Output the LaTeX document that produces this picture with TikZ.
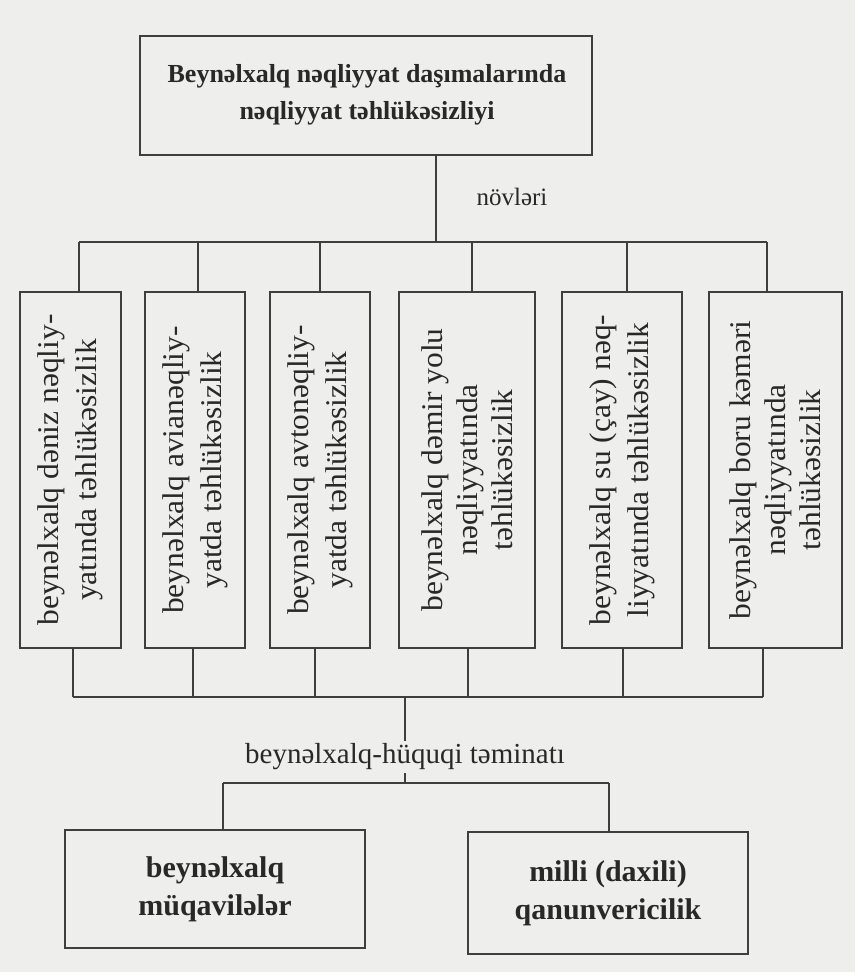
\documentclass[tikz,border=0pt]{standalone}
\usepackage{fontspec}
\setmainfont{Liberation Serif}
\newfontfamily\stretchedserif[FakeStretch=1.05]{Liberation Serif}
\definecolor{paper}{RGB}{238,238,236}
\definecolor{ink}{RGB}{62,62,62}
\definecolor{txt}{RGB}{40,40,40}
\tikzset{
  box/.style={draw=ink, line width=2.2pt, inner sep=0pt},
  conn/.style={draw=ink, line width=2pt},
  vtext/.style={rotate=90, align=center, text=txt, inner sep=0pt, font=\stretchedserif\fontsize{30}{38}\selectfont},
  vtextthree/.style={rotate=90, align=center, text=txt, inner sep=0pt, font=\stretchedserif\fontsize{30}{35}\selectfont},
  titletext/.style={align=center, text=txt, inner sep=0pt, font=\fontsize{26}{37}\selectfont\bfseries},
  boldtext/.style={align=center, text=txt, inner sep=0pt, font=\fontsize{30}{38}\selectfont\bfseries},
  plaintext/.style={text=txt, inner sep=3pt, font=\fontsize{29}{34}\selectfont},
  smalltext/.style={text=txt, inner sep=0pt, font=\fontsize{25}{30}\selectfont}
}
\begin{document}
\begin{tikzpicture}[x=1pt,y=-1pt]
\useasboundingbox (0,0) rectangle (855,972);
\fill[paper] (0,0) rectangle (855,972);

% title
\node[box, minimum width=452pt, minimum height=119pt] (top) at (366,95.5) {};
\node[titletext] (toptxt) at (367,95) {Beynəlxalq nəqliyyat daşımalarında\\nəqliyyat təhlükəsizliyi};
\node[smalltext] (novleri) at (512,197) {növləri};

% six boxes
\node[box, minimum width=101pt, minimum height=356pt] (b1) at (70.5,470) {};
\node[box, minimum width=100pt, minimum height=356pt] (b2) at (195,470) {};
\node[box, minimum width=100pt, minimum height=356pt] (b3) at (320,470) {};
\node[box, minimum width=136pt, minimum height=356pt] (b4) at (467,470) {};
\node[box, minimum width=120pt, minimum height=356pt] (b5) at (622,470) {};
\node[box, minimum width=133pt, minimum height=356pt] (b6) at (775.5,470) {};

\node[vtext] (t1) at (b1.center) {beynəlxalq dəniz nəqliy-\\yatında təhlükəsizlik};
\node[vtext] (t2) at (b2.center) {beynəlxalq avianəqliy-\\yatda təhlükəsizlik};
\node[vtext] (t3) at (b3.center) {beynəlxalq avtonəqliy-\\yatda təhlükəsizlik};
\node[vtextthree] (t4) at (b4.center) {beynəlxalq dəmir yolu\\nəqliyyatında\\təhlükəsizlik};
\node[vtext] (t5) at (b5.center) {beynəlxalq su (çay) nəq-\\liyyatında təhlükəsizlik};
\node[vtextthree] (t6) at (b6.center) {beynəlxalq boru kəməri\\nəqliyyatında\\təhlükəsizlik};

% upper bus
\coordinate (j0) at (436,242);
\coordinate (j1) at (79,242);
\coordinate (j2) at (198,242);
\coordinate (j3) at (320,242);
\coordinate (j4) at (472,242);
\coordinate (j5) at (627,242);
\coordinate (j6) at (767,242);
\draw[conn] (top.south -| j0) -- (j0);
\draw[conn] (j1) -- (j6);
\foreach \i in {1,...,6} { \draw[conn] (j\i) -- (b\i.north -| j\i); }

% lower bus
\coordinate (k0) at (405,697);
\coordinate (k1) at (73,697);
\coordinate (k2) at (193,697);
\coordinate (k3) at (315,697);
\coordinate (k4) at (468,697);
\coordinate (k5) at (623,697);
\coordinate (k6) at (763,697);
\foreach \i in {1,...,6} { \draw[conn] (b\i.south -| k\i) -- (k\i); }
\draw[conn] (k1) -- (k6);

\node[plaintext] (mid) at (405,757) {beynəlxalq-hüquqi təminatı};
\draw[conn] (k0) -- (mid.north);

% bottom boxes
\node[box, minimum width=300pt, minimum height=118pt] (L) at (215,889) {};
\node[box, minimum width=280pt, minimum height=122pt] (R) at (608,893) {};
\node[boldtext] (Ltxt) at (L.center) {beynəlxalq\\müqavilələr};
\node[boldtext] (Rtxt) at (R.center) {milli (daxili)\\qanunvericilik};

\coordinate (m0) at (405,783);
\coordinate (m1) at (223,783);
\coordinate (m2) at (609,783);
\draw[conn] (mid.south) -- (m0);
\draw[conn] (m1) -- (m2);
\draw[conn] (m1) -- (L.north -| m1);
\draw[conn] (m2) -- (R.north -| m2);
\end{tikzpicture}
\end{document}
